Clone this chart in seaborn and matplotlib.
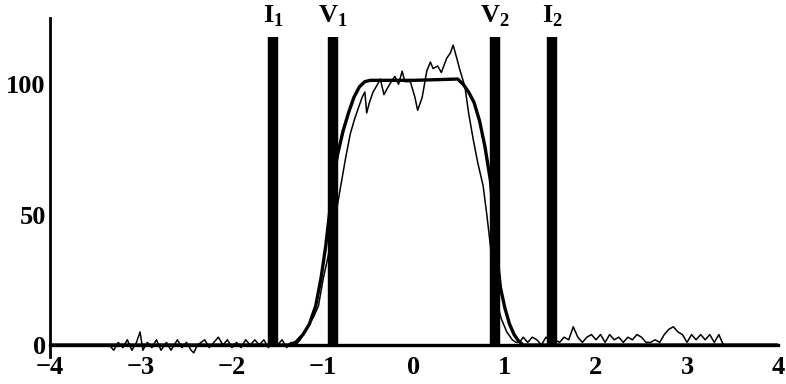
import numpy as np
import pandas as pd
import matplotlib
matplotlib.use("Agg")
import matplotlib.pyplot as plt
import seaborn as sns

# smooth (calculated) profile
smooth_x = [-4.0, -1.38, -1.3, -1.22, -1.15, -1.08, -1.02, -0.97, -0.93, -0.89,
            -0.84, -0.78, -0.72, -0.66, -0.6, -0.54, -0.48, -0.3, 0.0, 0.3, 0.48,
            0.54, 0.6, 0.66, 0.72, 0.78, 0.84, 0.9, 0.95, 1.0, 1.05, 1.1, 1.15,
            1.2, 4.0]
smooth_y = [0, 0, 1, 4, 8, 15, 26, 38, 50, 63,
            73, 82, 89, 95, 99, 101, 101.5, 101.5, 101.5, 101.8, 102,
            100, 97, 93, 86, 76, 63, 38, 22, 14, 8, 4, 1.5,
            0, 0]

# measured (noisy) profile
meas_x = [-3.35, -3.3, -3.25, -3.2, -3.15, -3.1, -3.05, -3.01, -2.98, -2.93,
          -2.88, -2.83, -2.78, -2.72, -2.67, -2.6, -2.55, -2.5, -2.45, -2.42,
          -2.38, -2.3, -2.25, -2.2, -2.15, -2.1, -2.05, -2.0, -1.95, -1.9,
          -1.85, -1.8, -1.75, -1.7, -1.65, -1.6, -1.55, -1.5, -1.45, -1.4,
          -1.35, -1.3, -1.25, -1.2, -1.15, -1.1, -1.05, -1.0, -0.95, -0.9,
          -0.85, -0.8, -0.75, -0.7, -0.65, -0.6, -0.57, -0.54, -0.52, -0.49,
          -0.45, -0.4, -0.37, -0.33, -0.3, -0.25, -0.21, -0.17, -0.13, -0.1,
          -0.04, 0.01, 0.04, 0.09, 0.14, 0.18, 0.21, 0.26, 0.3, 0.36,
          0.4, 0.43, 0.47, 0.5, 0.56, 0.6, 0.65, 0.7, 0.76, 0.8,
          0.84, 0.87, 0.92, 0.96, 1.02, 1.08, 1.12, 1.16, 1.2, 1.25,
          1.3, 1.35, 1.4, 1.45, 1.5, 1.55, 1.6, 1.65, 1.7, 1.75,
          1.8, 1.85, 1.9, 1.95, 2.0, 2.05, 2.1, 2.15, 2.2, 2.25,
          2.3, 2.35, 2.4, 2.45, 2.5, 2.55, 2.6, 2.65, 2.7, 2.75,
          2.8, 2.85, 2.9, 2.95, 3.0, 3.05, 3.1, 3.15, 3.2, 3.25,
          3.3, 3.35, 3.4]
meas_y = [0, -2, 1, -1, 2, -2, 1, 5, -2, 1,
          -1, 2, -2, 1, -2, 2, -1, 1, -2, -3,
          0, 2, -1, 1, 3, 0, 2, -1, 1, -1,
          2, 0, 2, 0, 2, -1, 2, 0, 2, -1,
          1, 0, 2, 5, 8, 11, 15, 25, 33, 42,
          52, 62, 72, 81, 87, 92, 95, 97, 89, 93,
          97, 100, 102, 96, 98, 101, 103, 100, 105, 101,
          101, 95, 90, 95, 105, 108.5, 106, 107, 104.5, 110,
          112, 115, 110, 106, 99, 89, 79, 70, 61, 50,
          38, 25, 15, 10, 5, 2, 1, 1, 3, 1,
          3, 2, 0, 3, 1, 2, 1, 3, 2, 7,
          3, 1, 3, 4, 2, 4, 1, 4, 2, 3,
          1, 3, 2, 4, 3, 1, 1, 2, 1, 4,
          6, 7, 5, 4, 1, 4, 2, 4, 2, 4,
          1, 4, 0]

# slit positions
bar_names = [r"$\mathbf{I}_\mathbf{1}$", r"$\mathbf{V}_\mathbf{1}$",
             r"$\mathbf{V}_\mathbf{2}$", r"$\mathbf{I}_\mathbf{2}$"]
bar_x = [-1.55, -0.89, 0.89, 1.52]
bar_top = 118

x_ticks = [-4, -3, -2, -1, 0, 1, 2, 3, 4]
y_ticks = [0, 50, 100]

sns.set_style("white")
plt.rcParams["font.family"] = ["Liberation Serif", "DejaVu Serif"]
plt.rcParams["font.weight"] = "bold"
plt.rcParams["mathtext.fontset"] = "custom"
plt.rcParams["mathtext.rm"] = "Liberation Serif"
plt.rcParams["mathtext.bf"] = "Liberation Serif:bold"
plt.rcParams["text.color"] = "black"

fig = plt.figure(figsize=(7.86, 3.84), dpi=100)
ax = fig.add_axes([50 / 786, 1 - 357 / 384, 728 / 786, (357 - 18) / 384])

smooth = pd.DataFrame({"x": smooth_x, "y": smooth_y})
meas = pd.DataFrame({"x": meas_x, "y": meas_y})
sns.lineplot(data=smooth, x="x", y="y", ax=ax, color="black", lw=2.4,
             sort=False, estimator=None)
sns.lineplot(data=meas, x="x", y="y", ax=ax, color="black", lw=1.1,
             sort=False, estimator=None)

ax.vlines(bar_x, 0, bar_top, color="black", lw=7.5)
for name, bx in zip(bar_names, bar_x):
    ax.text(bx, 121, name, ha="center", va="bottom", fontsize=19,
            color="black", clip_on=False)

ax.set_xlim(-4, 4)
ax.set_ylim(-4.6, 125.4)
ax.set_xticks(x_ticks)
ax.set_yticks(y_ticks)
ax.set_xticklabels([("\u2212" + str(-t)) if t < 0 else str(t) for t in x_ticks])
ax.set_xlabel("")
ax.set_ylabel("")

for s in ["top", "right"]:
    ax.spines[s].set_visible(False)
for s in ["left", "bottom"]:
    ax.spines[s].set_color("black")
ax.spines["bottom"].set_position(("data", 0))
ax.spines["bottom"].set_linewidth(2.4)
ax.spines["left"].set_linewidth(2.0)
ax.tick_params(axis="x", direction="in", length=7, width=1.5, pad=8,
               labelsize=19, colors="black")
ax.tick_params(axis="y", direction="in", length=6, width=1.5, pad=3,
               labelsize=19, colors="black")

fig.savefig("out.png", dpi=100)
